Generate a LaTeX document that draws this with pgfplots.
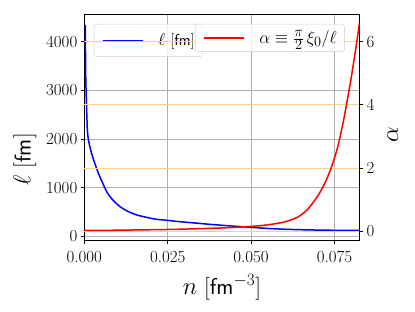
\documentclass[border=0pt]{standalone}
\usepackage{fontspec}
\usepackage{pgfplots}
\pgfplotsset{compat=1.18}
\definecolor{gridgray}{HTML}{B0B0B0}
\definecolor{orgrid}{HTML}{FFD280}
\definecolor{mblue}{HTML}{0000FF}
\definecolor{mred}{HTML}{FF0000}
\pgfplotstableread{
n l
0.0003 4344
0.00036 3800
0.00042 3320
0.00055 2950
0.00066 2700
0.0008 2400
0.0009 2210
0.0011 2050
0.0015 1890
0.0022 1700
0.0033 1470
0.0045 1250
0.0067 920
0.0085 750
0.0107 610
0.0130 515
0.0157 440
0.0190 385
0.0217 350
0.0250 328
0.0287 300
0.0330 275
0.0377 246
0.0440 213
0.0500 185
0.0550 162
0.0607 144
0.0680 131
0.0750 124
0.0825 121
}\elltable
\pgfplotstableread{
n a
0.0000 0.027
0.0100 0.035
0.0200 0.050
0.0260 0.060
0.0350 0.085
0.0420 0.110
0.0500 0.155
0.0550 0.205
0.0600 0.295
0.0640 0.450
0.0670 0.700
0.0700 1.120
0.0720 1.500
0.0740 2.000
0.0760 2.680
0.0777 3.500
0.0785 3.950
0.0800 4.850
0.0817 6.000
0.0825 6.600
}\alphatable
\begin{document}
\begin{tikzpicture}
\useasboundingbox (-84.3bp,-71.3bp) rectangle (330.7bp,240.7bp);
\begin{axis}[
  scale only axis, width=275.2bp, height=226bp,
  at={(0,0)}, anchor=south west,
  xmin=0, xmax=0.0825, ymin=-90, ymax=4555,
  xtick={0,0.025,0.05,0.075}, xticklabels={0.000,0.025,0.050,0.075},
  ytick={0,1000,2000,3000,4000},
  yticklabels={0,1000,2000,3000,4000},
  scaled ticks=false,
  grid=major, major grid style={gridgray, line width=0.8bp},
  tick align=outside, major tick length=3.5bp, xtick pos=bottom, ytick pos=left,
  tick style={black, line width=0.8bp},
  axis line style={line width=0.8bp},
  ticklabel style={font=\fontsize{17}{20}\selectfont},
  xticklabel style={yshift=-3.5bp},
  xlabel={$n$ [\textsf{fm}$^{-3}$]},
  xlabel style={font=\fontsize{23}{27}\selectfont, at={(axis description cs:0.5,-0.205)}, anchor=center},
  ylabel={$\ell$ [\textsf{fm}]},
  ylabel style={font=\fontsize{23}{27}\selectfont, at={(axis description cs:-0.2155,0.36)}, anchor=center},
  legend style={at={(axis description cs:0.0352,0.959)}, anchor=north west,
    draw=black!20, rounded corners=2.5bp, fill=white, fill opacity=0.8, text opacity=1, draw opacity=1,
    font=\fontsize{16}{19}\selectfont, inner xsep=7.7bp, inner ysep=9.5bp,
    column sep=15bp, nodes={inner sep=0bp}},
  legend image code/.code={\draw[#1, line width=1.5bp, draw opacity=1] (0bp,0bp) -- (40bp,0bp);},
]
\addplot[mblue, line width=1.5bp, no markers, smooth, tension=0.4] table[x=n, y=l] {\elltable};
\addlegendentry{$\ell$ [\textsf{fm}]}
\end{axis}
\begin{axis}[
  scale only axis, width=275.2bp, height=226bp,
  at={(0,0)}, anchor=south west,
  xmin=0, xmax=0.0825, ymin=-0.297, ymax=6.854,
  axis x line=none, axis y line*=right,
  ytick={0,2,4,6}, yticklabels={0,2,4,6},
  ymajorgrids, major grid style={orgrid, line width=0.8bp},
  tick align=outside, major tick length=3.5bp,
  tick style={black, line width=0.8bp},
  axis line style={line width=0.8bp},
  ticklabel style={font=\fontsize{17}{20}\selectfont},
  ylabel={$\alpha$},
  ylabel style={font=\fontsize{23}{27}\selectfont, at={(axis description cs:1.1207,0.468)}, anchor=center},
  legend style={at={(axis description cs:0.402,0.959)}, anchor=north west,
    draw=black!20, rounded corners=2.5bp, fill=white, fill opacity=0.8, text opacity=1, draw opacity=1,
    font=\fontsize{19}{22}\selectfont, inner xsep=7.7bp, inner ysep=6.5bp,
    column sep=15bp, nodes={inner sep=0bp}},
  legend image code/.code={\draw[#1, line width=1.5bp, draw opacity=1] (0bp,0bp) -- (40bp,0bp);},
]
\addplot[mred, line width=1.5bp, no markers, smooth, tension=0.4] table[x=n, y=a] {\alphatable};
\addlegendentry{$\alpha\equiv\frac{\pi}{2}\,\xi_0/\ell$}
\end{axis}
\end{tikzpicture}
\end{document}
